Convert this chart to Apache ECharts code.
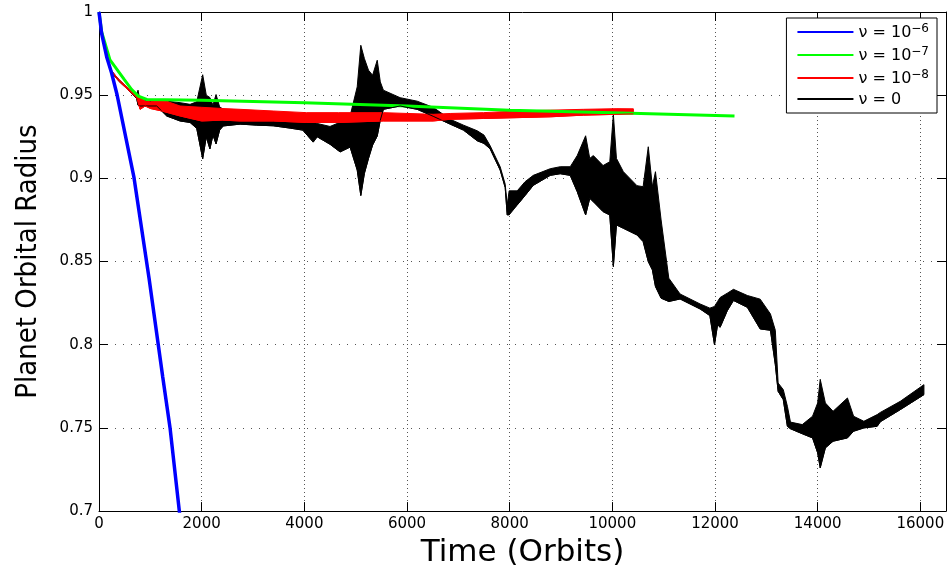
<!DOCTYPE html>
<html>
<head>
<meta charset="utf-8">
<script src="https://cdn.jsdelivr.net/npm/echarts@6/dist/echarts.min.js"></script>
<style>
  html, body { margin: 0; padding: 0; background: #fff; }
  #mains { width: 951px; height: 573px; }
</style>
</head>
<body>
<div id="mains"></div>
<script>
// values (time in orbits, radius)
var blueT = [0, 52, 150, 244, 351, 682, 975, 1241, 1384, 1565, 1600];
var blueR = [1, 0.987, 0.973, 0.9635, 0.9504, 0.9004, 0.84, 0.7808, 0.75, 0.7, 0.69];

var greenT = [0, 52, 214, 494, 637, 766, 930, 2000, 4000, 6000, 8000, 10000, 12380];
var greenR = [1, 0.988, 0.9712, 0.9593, 0.9534, 0.9494, 0.9474, 0.947, 0.9455, 0.9435, 0.941, 0.9395, 0.9375];

// red band: lower and upper edge of the noisy curve
var redT = [0, 52, 150, 250, 376, 571, 734, 800, 900, 1000, 1222, 1579, 2000, 2400, 2748, 3394, 4040, 4670, 5540, 6510, 6841, 7490, 8140, 8790, 9440, 10090, 10410];
var redHi = [1, 0.9875, 0.9725, 0.9645, 0.9598, 0.954, 0.95, 0.9494, 0.9465, 0.946, 0.9474, 0.9435, 0.9427, 0.942, 0.9415, 0.9405, 0.9395, 0.9395, 0.9395, 0.9385, 0.939, 0.9395, 0.9405, 0.941, 0.9415, 0.9419, 0.9418];
var redLo = [1, 0.9865, 0.9715, 0.9635, 0.9588, 0.953, 0.9485, 0.9415, 0.9435, 0.942, 0.9405, 0.9375, 0.9345, 0.935, 0.9345, 0.9345, 0.9336, 0.9336, 0.9345, 0.9345, 0.9355, 0.936, 0.9365, 0.937, 0.938, 0.9385, 0.9388];

// black band: lower and upper edge of the oscillating curve
var blackT = [0, 52, 150, 250, 376, 571, 734, 760, 800, 1124, 1319, 1579, 1774, 1904, 2020, 2090, 2160, 2220, 2280, 2350, 2420, 2748, 3073, 3394, 3723, 3970, 4173, 4250, 4500, 4697, 4892, 5030, 5100, 5170, 5250, 5330, 5420, 5480, 5540, 5866, 6198, 6510, 6841, 7100, 7368, 7500, 7620, 7815, 7913, 7952, 7990, 8147, 8300, 8460, 8790, 8985, 9180, 9316, 9480, 9560, 9630, 9820, 9950, 10020, 10080, 10215, 10480, 10600, 10700, 10780, 10840, 10950, 11100, 11320, 11710, 11900, 11990, 12050, 12100, 12240, 12360, 12630, 12880, 13080, 13175, 13230, 13330, 13410, 13470, 13700, 13900, 14000, 14050, 14150, 14300, 14580, 14700, 14900, 15160, 15220, 15610, 16070];
var blackLo = [1, 0.9865, 0.9715, 0.9635, 0.9588, 0.953, 0.948, 0.944, 0.9435, 0.9435, 0.9375, 0.9345, 0.9336, 0.93, 0.9118, 0.925, 0.9177, 0.926, 0.9207, 0.929, 0.9315, 0.9326, 0.932, 0.9316, 0.9302, 0.929, 0.9218, 0.925, 0.9205, 0.9159, 0.9188, 0.905, 0.8897, 0.903, 0.912, 0.92, 0.9254, 0.935, 0.9415, 0.9435, 0.9415, 0.9373, 0.9326, 0.929, 0.9226, 0.921, 0.9177, 0.905, 0.8945, 0.878, 0.878, 0.884, 0.8897, 0.8958, 0.9018, 0.9028, 0.9018, 0.892, 0.878, 0.888, 0.886, 0.88, 0.878, 0.847, 0.872, 0.87, 0.866, 0.862, 0.85, 0.845, 0.835, 0.828, 0.826, 0.8275, 0.8215, 0.8175, 0.8, 0.812, 0.8105, 0.8205, 0.8266, 0.8225, 0.8095, 0.8087, 0.788, 0.772, 0.767, 0.751, 0.7495, 0.7465, 0.744, 0.735, 0.726, 0.738, 0.742, 0.744, 0.748, 0.75, 0.751, 0.7537, 0.761, 0.77];
var blackHi = [1, 0.9875, 0.9725, 0.9645, 0.9598, 0.954, 0.95, 0.953, 0.9465, 0.9474, 0.9464, 0.9455, 0.9445, 0.946, 0.9623, 0.95, 0.9486, 0.944, 0.9504, 0.943, 0.9415, 0.9397, 0.9375, 0.9367, 0.9355, 0.9345, 0.9337, 0.933, 0.9312, 0.9337, 0.9375, 0.955, 0.98, 0.972, 0.965, 0.962, 0.971, 0.958, 0.953, 0.9485, 0.9464, 0.9427, 0.9355, 0.932, 0.9286, 0.926, 0.9196, 0.907, 0.8965, 0.884, 0.8925, 0.8925, 0.898, 0.9018, 0.9058, 0.907, 0.907, 0.9137, 0.9256, 0.912, 0.9137, 0.9077, 0.91, 0.9385, 0.912, 0.904, 0.8956, 0.895, 0.919, 0.895, 0.904, 0.875, 0.84, 0.8305, 0.8245, 0.822, 0.823, 0.826, 0.8284, 0.831, 0.8333, 0.8296, 0.8274, 0.8185, 0.8087, 0.777, 0.773, 0.763, 0.7535, 0.752, 0.757, 0.765, 0.7792, 0.765, 0.76, 0.768, 0.757, 0.754, 0.758, 0.7593, 0.766, 0.776];

var legendNames = ["ν = 10⁻⁶", "ν = 10⁻⁷", "ν = 10⁻⁸", "ν = 0"];
var legendExp = ["−6", "−7", "−8", ""];

var xTicks = [0, 16500, 2000];
var yTicks = [0.7, 1, 0.05];

function pairs(t, v) {
  return t.map(function (x, i) { return [x, v[i]]; });
}

// filled polygon between a lower and an upper edge
function band(name, t, lo, hi, color) {
  return {
    name: name,
    type: "custom",
    clip: true,
    silent: true,
    data: [[t[0], lo[0]]],
    renderItem: function (params, api) {
      var pts = [];
      for (var i = 0; i < t.length; i++) pts.push(api.coord([t[i], hi[i]]));
      for (var j = t.length - 1; j >= 0; j--) pts.push(api.coord([t[j], lo[j]]));
      return {
        type: "polygon",
        shape: { points: pts },
        style: { fill: color, stroke: color, lineWidth: 1 },
      };
    },
  };
}

function edge(name, t, v, color, width) {
  return {
    name: name,
    type: "line",
    symbol: "none",
    data: pairs(t, v),
    lineStyle: { color: color, width: width },
    itemStyle: { color: color },
  };
}

var myCharts = echarts.init(document.getElementById("mains"));

var tickFont = "DejaVu Sans";
var dotted = "#555";

option = {
  backgroundColor: "#fff",
  animation: false,
  grid: {
    left: 99,
    right: 5,
    top: 12,
    bottom: 57,
  },
  legend: {
    orient: "vertical",
    right: 14,
    top: 18,
    padding: [5, 8, 5, 10],
    itemGap: 5,
    itemWidth: 56,
    itemHeight: 14,
    backgroundColor: "#fff",
    borderColor: "#000",
    borderWidth: 1,
    borderRadius: 0,
    itemStyle: { opacity: 0 },
    formatter: function (name) {
      var k = legendNames.indexOf(name);
      if (!legendExp[k]) return "{b|" + name + "}";
      return "{b|ν = 10}{s|" + legendExp[k] + "}";
    },
    textStyle: {
      color: "#000",
      fontFamily: tickFont,
      fontSize: 16,
      rich: {
        b: { fontFamily: tickFont, fontSize: 16, lineHeight: 18, verticalAlign: "bottom" },
        s: { fontFamily: tickFont, fontSize: 12, lineHeight: 18, verticalAlign: "top", padding: [0, 0, 6, 0] },
      },
    },
    data: legendNames,
  },
  xAxis: [
    {
      type: "value",
      min: xTicks[0],
      max: xTicks[1],
      interval: xTicks[2],
      name: "Time (Orbits)",
      nameLocation: "middle",
      nameGap: 16,
      nameTextStyle: {
        color: "#000",
        fontFamily: "DejaVu Sans",
        fontSize: 31,
      },
      axisLine: { onZero: false, lineStyle: { color: "#000", width: 1 } },
      axisTick: { inside: true, length: 9, lineStyle: { color: "#000" } },
      axisLabel: {
        showMaxLabel: false,
        margin: 6,
        color: "#000",
        fontFamily: tickFont,
        fontSize: 15,
        formatter: function (v) { return String(v); },
      },
      splitLine: {
        show: true,
        lineStyle: { color: dotted, width: 1, type: [1, 3] },
      },
    },
    {
      type: "value",
      position: "top",
      min: xTicks[0],
      max: xTicks[1],
      interval: xTicks[2],
      axisLine: { onZero: false, lineStyle: { color: "#000", width: 1 } },
      axisTick: { inside: true, length: 9, lineStyle: { color: "#000" } },
      axisLabel: { show: false },
      splitLine: { show: false },
    },
  ],
  yAxis: [
    {
      type: "value",
      min: yTicks[0],
      max: yTicks[1],
      interval: yTicks[2],
      name: "Planet Orbital Radius",
      nameLocation: "middle",
      nameGap: 56,
      nameTextStyle: {
        color: "#000",
        fontFamily: "'Liberation Sans Narrow', 'DejaVu Sans Condensed', sans-serif",
        fontSize: 29,
      },
      axisLine: { onZero: false, lineStyle: { color: "#000", width: 1 } },
      axisTick: { inside: true, length: 9, lineStyle: { color: "#000" } },
      axisLabel: {
        margin: 6,
        color: "#000",
        fontFamily: tickFont,
        fontSize: 15,
      },
      splitLine: {
        show: true,
        lineStyle: { color: dotted, width: 1, type: [1, 7] },
      },
    },
    {
      type: "value",
      position: "right",
      min: yTicks[0],
      max: yTicks[1],
      interval: yTicks[2],
      axisLine: { show: true, onZero: false, lineStyle: { color: "#000", width: 1 } },
      axisTick: { show: true, inside: true, length: 9, lineStyle: { color: "#000" } },
      axisLabel: { show: false },
      splitLine: { show: false },
    },
  ],
  series: [
    edge(legendNames[1], greenT, greenR, "#00ff00", 3),
    band("blackBand", blackT, blackLo, blackHi, "#000"),
    edge(legendNames[3], blackT, blackLo, "#000", 1),
    band("redBand", redT, redLo, redHi, "#ff0000"),
    edge(legendNames[2], redT, redLo, "#ff0000", 1),
    edge(legendNames[0], blueT, blueR, "#0000ff", 3.5),
  ],
};
myCharts.setOption(option);
</script>
</body>
</html>
